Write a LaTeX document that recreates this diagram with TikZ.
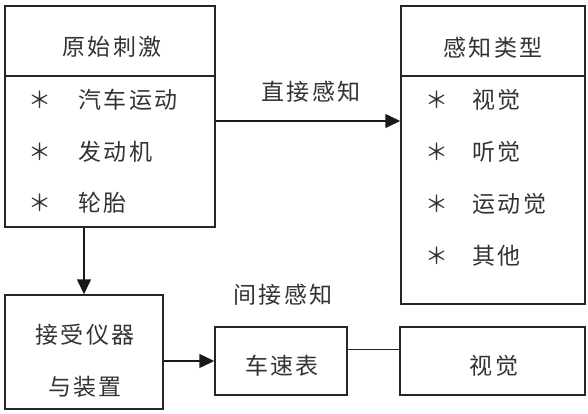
\documentclass[tikz,border=0pt]{standalone}
\usepackage{fontspec}
\setmainfont{Noto Sans CJK SC}[LetterSpace=10]
\usepackage{tikz}
\usetikzlibrary{arrows.meta,calc}

\begin{document}
\begin{tikzpicture}[x=1pt,y=-1pt,
    box/.style={draw=black!85,line width=1.5pt,inner sep=0pt},
    txt/.style={inner sep=0pt,text=black!80,font=\fontsize{23}{27}\selectfont},
    item/.style={txt,anchor=west},
    arr/.style={-{Triangle[length=15pt,width=14pt]},line width=1.5pt,draw=black!90}]
    \useasboundingbox (0,0) rectangle (588,413);
    \node[box,minimum width=210pt,minimum height=221pt] (stim) at (110,116.5) {};
    \node[box,minimum width=184pt,minimum height=298pt] (kind) at (493,155) {};
    \node[box,minimum width=158pt,minimum height=114pt] (device) at (84,352) {};
    \node[box,minimum width=132pt,minimum height=68pt] (meter) at (281,361) {};
    \node[box,minimum width=185pt,minimum height=68pt] (vis) at (492.5,361) {};
    \draw[line width=1.5pt,black!85] (stim.west |- 0,76) -- (stim.east |- 0,76);
    \draw[line width=1.5pt,black!85] (kind.west |- 0,76) -- (kind.east |- 0,76);
    \node[txt] (stimtitle) at (112,47) {原始刺激};
    \node[item] (stima) at (28.5,100) {＊\hspace{27pt}汽车运动};
    \node[item] (stimb) at (28.5,152) {＊\hspace{27pt}发动机};
    \node[item] (stimc) at (28.5,203) {＊\hspace{27pt}轮胎};
    \node[txt] (kindtitle) at (493,47.5) {感知类型};
    \node[item] (kinda) at (425.5,100) {＊\hspace{24pt}视觉};
    \node[item] (kindb) at (425.5,152) {＊\hspace{24pt}听觉};
    \node[item] (kindc) at (425.5,204) {＊\hspace{24pt}运动觉};
    \node[item] (kindd) at (425.5,256) {＊\hspace{24pt}其他};
    \node[txt] (devicea) at (85,335) {接受仪器};
    \node[txt] (deviceb) at (85,387) {与装置};
    \node[txt] (metertext) at (282,366) {车速表};
    \node[txt] (vistext) at (494,366) {视觉};
    \node[txt] (direct) at (311,92) {直接感知};
    \node[txt] (indirect) at (283,295) {间接感知};
    \draw[arr] ([yshift=-4.5pt]stim.east) -- ([yshift=-4.5pt]stim.east -| kind.west);
    \draw[arr] (device.north |- stim.south) -- (device.north);
    \draw[arr] (device.east |- meter.west) -- (meter.west);
    \draw[line width=1pt,black!85] ([yshift=12pt]meter.east) -- ([yshift=12pt]vis.west);
\end{tikzpicture}
\end{document}
